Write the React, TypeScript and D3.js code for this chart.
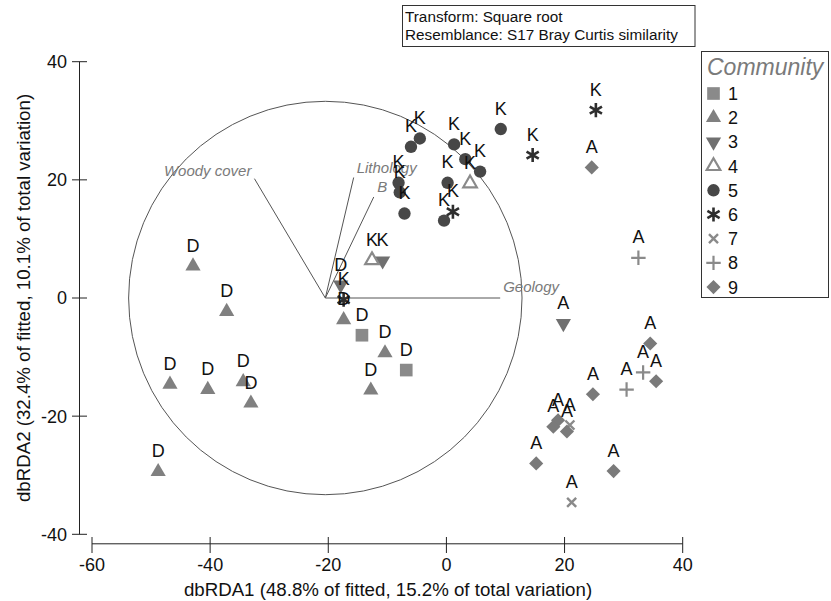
import React from "react";
import * as d3 from "d3";

// dbRDA site scores (axis 1, axis 2), community membership and site label
const axis1 = [
  -14.3, -6.8,
  -42.9, -37.2, -46.8, -40.4, -34.4, -33.1, -48.8, -17.4, -10.4, -12.8,
  -17.9, -10.8, 19.8,
  -12.6, 4.0,
  -4.5, -6.0, 1.3, 3.2, 5.7, 9.2, 0.2, -8.1, -7.9, -7.1, -0.4,
  -17.4, 1.1, 14.6, 25.3,
  20.9, 21.2,
  32.5, 33.3, 30.5,
  24.6, 34.5, 35.5, 24.8, 18.9, 18.1, 20.4, 15.2, 28.3,
];
const axis2 = [
  -6.3, -12.2,
  5.4, -2.3, -14.6, -15.5, -14.2, -17.8, -29.4, -3.7, -9.3, -15.6,
  2.2, 6.3, -4.3,
  6.4, 19.4,
  27.0, 25.6, 26.0, 23.5, 21.4, 28.6, 19.5, 19.5, 17.9, 14.3, 13.1,
  -0.3, 14.6, 24.2, 31.8,
  -21.5, -34.6,
  6.8, -12.6, -15.5,
  22.1, -7.7, -14.1, -16.3, -20.7, -21.8, -22.6, -28.0, -29.3,
];
const community = [
  1, 1,
  2, 2, 2, 2, 2, 2, 2, 2, 2, 2,
  3, 3, 3,
  4, 4,
  5, 5, 5, 5, 5, 5, 5, 5, 5, 5, 5,
  6, 6, 6, 6,
  7, 7,
  8, 8, 8,
  9, 9, 9, 9, 9, 9, 9, 9, 9,
];
const siteLabel = [
  "D", "D",
  "D", "D", "D", "D", "D", "D", "D", "D", "D", "D",
  "D", "K", "A",
  "K", "K",
  "K", "K", "K", "K", "K", "K", "K", "K", "K", "K", "K",
  "K", "K", "K", "K",
  "A", "A",
  "A", "A", "A",
  "A", "A", "A", "A", "A", "A", "A", "A", "A",
];

// Environmental predictor vectors (relative to the vector origin)
const vectorNames = ["Woody cover", "Lithology", "B", "Geology"];
const vectorDx = [-12.0, 4.8, 8.2, 29.6];
const vectorDy = [20.2, 20.4, 17.1, 0];
const vectorOrigin = [-20.5, 0];
const circleRadius = 33.3;

const communities = [1, 2, 3, 4, 5, 6, 7, 8, 9];
const xTicks = [-60, -40, -20, 0, 20, 40];
const yTicks = [-40, -20, 0, 20, 40];

const FONT = "'Liberation Sans', Arial, sans-serif";

const x = d3.scaleLinear().domain([-60, 40]).range([92, 682.7]);
const y = d3.scaleLinear().domain([-40, 40]).range([534.3, 61.7]);

type Style = { path: string; fill: string; stroke: string; sw: number; rot: number };

const sym = (t: d3.SymbolType, size: number) => d3.symbol().type(t).size(size)() as string;

const styles: Record<number, Style> = {
  1: { path: sym(d3.symbolSquare, 160), fill: "#8a8a8a", stroke: "none", sw: 0, rot: 0 },
  2: { path: sym(d3.symbolTriangle, 100), fill: "#808080", stroke: "none", sw: 0, rot: 0 },
  3: { path: sym(d3.symbolTriangle, 100), fill: "#707070", stroke: "none", sw: 0, rot: 180 },
  4: { path: sym(d3.symbolTriangle, 80), fill: "none", stroke: "#8a8a8a", sw: 2.2, rot: 0 },
  5: { path: sym(d3.symbolCircle, 120), fill: "#474747", stroke: "none", sw: 0, rot: 0 },
  6: { path: sym(d3.symbolAsterisk, 140), fill: "none", stroke: "#2e2e2e", sw: 2.6, rot: 0 },
  7: { path: sym(d3.symbolX, 55), fill: "none", stroke: "#8a8a8a", sw: 2.4, rot: 0 },
  8: { path: sym(d3.symbolPlus, 70), fill: "none", stroke: "#8a8a8a", sw: 2.2, rot: 0 },
  9: { path: sym(d3.symbolSquare, 100), fill: "#7a7a7a", stroke: "none", sw: 0, rot: 45 },
};

function Marker({ c, cx, cy }: { c: number; cx: number; cy: number }) {
  const s = styles[c];
  return (
    <path
      d={s.path}
      transform={`translate(${cx},${cy}) rotate(${s.rot})`}
      fill={s.fill}
      stroke={s.stroke}
      strokeWidth={s.sw}
    />
  );
}

export default function App() {
  const ox = x(vectorOrigin[0]);
  const oy = y(vectorOrigin[1]);
  const rPx = x(circleRadius) - x(0);
  const axisColor = "#222";
  const vecColor = "#555";

  // label placement for each vector tip: [dx, dy, anchor]
  const vecLabelPos: [number, number, string][] = [
    [-3, -3, "end"],
    [3, -4, "start"],
    [3.5, -5, "start"],
    [3, -6, "start"],
  ];

  return (
    <svg
      width={831}
      height={601}
      style={{ position: "absolute", left: 0, top: 0, background: "#fff" }}
      fontFamily={FONT}
    >
      <rect width={831} height={601} fill="#fff" />

      {/* header box */}
      <rect x={402.5} y={5.5} width={292.5} height={41} fill="none" stroke="#333" strokeWidth={1} />
      <text x={405} y={21.5} fontSize={15.3} fill="#111">Transform: Square root</text>
      <text x={405} y={40} fontSize={15.3} fill="#111">Resemblance: S17 Bray Curtis similarity</text>

      {/* y axis */}
      <line x1={79.5} x2={79.5} y1={y(40)} y2={y(-40)} stroke={axisColor} strokeWidth={1} />
      {yTicks.map((t) => (
        <g key={`y${t}`}>
          <line x1={72} x2={87} y1={y(t)} y2={y(t)} stroke={axisColor} strokeWidth={1} />
          <text x={67} y={y(t)} dy="0.36em" textAnchor="end" fontSize={18} fill="#111">
            {t}
          </text>
        </g>
      ))}
      <text
        transform={`translate(30,${(y(40) + y(-40)) / 2}) rotate(-90)`}
        textAnchor="middle"
        fontSize={18.7}
        fill="#111"
      >
        dbRDA2 (32.4% of fitted, 10.1% of total variation)
      </text>

      {/* x axis */}
      <line x1={x(-60)} x2={x(40)} y1={543.8} y2={543.8} stroke={axisColor} strokeWidth={1} />
      {xTicks.map((t) => (
        <g key={`x${t}`}>
          <line x1={x(t)} x2={x(t)} y1={537} y2={553} stroke={axisColor} strokeWidth={1} />
          <text x={x(t)} y={570.5} textAnchor="middle" fontSize={18} fill="#111">
            {t}
          </text>
        </g>
      ))}
      <text x={388} y={596} textAnchor="middle" fontSize={18.7} fill="#111">
        dbRDA1 (48.8% of fitted, 15.2% of total variation)
      </text>

      {/* correlation circle and vectors */}
      <circle cx={ox} cy={oy} r={rPx} fill="none" stroke={vecColor} strokeWidth={1} />
      {vectorNames.map((n, i) => {
        const ex = x(vectorOrigin[0] + vectorDx[i]);
        const ey = y(vectorOrigin[1] + vectorDy[i]);
        const [lx, ly, anchor] = vecLabelPos[i];
        return (
          <g key={n}>
            <line x1={ox} y1={oy} x2={ex} y2={ey} stroke={vecColor} strokeWidth={1} />
            <text
              x={ex + lx}
              y={ey + ly}
              textAnchor={anchor as any}
              fontSize={15}
              fontStyle="italic"
              fill="#7a7a7a"
            >
              {n}
            </text>
          </g>
        );
      })}

      {/* site markers */}
      {axis1.map((v, i) => (
        <Marker key={`m${i}`} c={community[i]} cx={x(v)} cy={y(axis2[i])} />
      ))}
      {/* site labels */}
      {axis1.map((v, i) => (
        <text
          key={`l${i}`}
          x={x(v)}
          y={y(axis2[i]) - 14.5}
          textAnchor="middle"
          fontSize={18}
          fill="#111"
        >
          {siteLabel[i]}
        </text>
      ))}

      {/* legend */}
      <rect x={701.5} y={51.5} width={127} height={246} fill="#fff" stroke="#333" strokeWidth={1} />
      <text x={707} y={75} fontSize={23} fontStyle="italic" fill="#7a7a7a">
        Community
      </text>
      {communities.map((c, i) => {
        const cy = 93.5 + i * 24.2;
        return (
          <g key={`lg${c}`}>
            <Marker c={c} cx={713.5} cy={cy} />
            <text x={728} y={cy} dy="0.36em" fontSize={18} fill="#111">
              {c}
            </text>
          </g>
        );
      })}
    </svg>
  );
}
